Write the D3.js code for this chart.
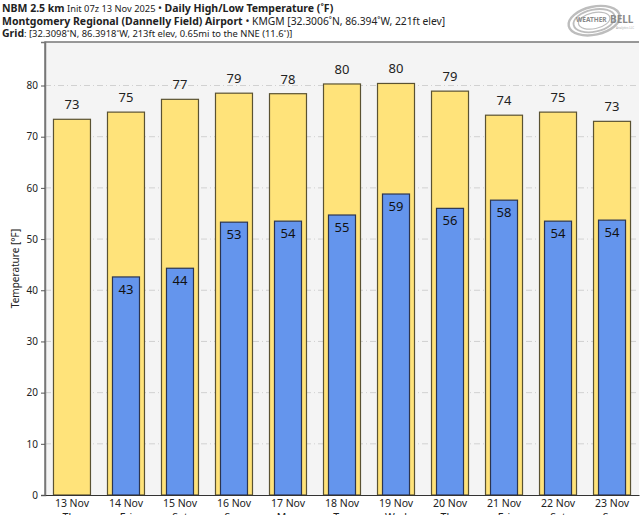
<!DOCTYPE html>
<html>
<head>
<meta charset="utf-8">
<script src="https://cdn.jsdelivr.net/npm/d3@7"></script>
<style>
  body { margin: 0; background: #fff; font-family: "Noto Sans", "Open Sans", sans-serif; }
  svg text { font-family: "Noto Sans", "Open Sans", sans-serif; fill: #222; }
</style>
</head>
<body>
<svg id="chart" width="644" height="515"></svg>
<script>
// Data
const DAYS = ['13 Nov', '14 Nov', '15 Nov', '16 Nov', '17 Nov', '18 Nov', '19 Nov', '20 Nov', '21 Nov', '22 Nov', '23 Nov'];
const WEEKDAYS = ['Thu', 'Fri', 'Sat', 'Sun', 'Mon', 'Tue', 'Wed', 'Thu', 'Fri', 'Sat', 'Sun'];
const HIGHS = [73.4, 74.8, 77.3, 78.5, 78.4, 80.3, 80.4, 78.9, 74.2, 74.8, 73.0];
const LOWS = [null, 42.6, 44.3, 53.3, 53.5, 54.7, 58.8, 56.0, 57.6, 53.5, 53.7];
const Y_TICKS = [0, 10, 20, 30, 40, 50, 60, 70, 80];

// Layout
const M = { left: 45, right: 639, top: 42, bottom: 495 };
const HIGH_COLOR = '#ffe37a', LOW_COLOR = '#6495ed', EDGE = '#5a5232';

const svg = d3.select('#chart');

const x = d3.scaleBand().domain(DAYS.map((d, i) => i)).range([M.left, M.right]).paddingInner(0.315).paddingOuter(0.157);
const y = d3.scaleLinear().domain([0, 88.5]).range([M.bottom, M.top]);

// plot background
svg.append('rect').attr('x', M.left).attr('y', M.top)
  .attr('width', M.right - M.left).attr('height', M.bottom - M.top)
  .attr('fill', '#f4f4f4');

// grid (dash-dot)
svg.append('g').selectAll('line').data(Y_TICKS.filter(t => t > 0)).join('line')
  .attr('x1', M.left).attr('x2', M.right)
  .attr('y1', d => y(d)).attr('y2', d => y(d))
  .attr('stroke', '#c8c8c8').attr('stroke-width', 0.8)
  .attr('stroke-dasharray', '6,3,1,3');

// high bars
svg.append('g').selectAll('rect').data(HIGHS).join('rect')
  .attr('x', (d, i) => x(i)).attr('width', x.bandwidth())
  .attr('y', d => y(d)).attr('height', d => y(0) - y(d))
  .attr('fill', HIGH_COLOR).attr('stroke', EDGE).attr('stroke-width', 1.2);

// low bars
const lowW = x.bandwidth() * 0.73;
const lowData = LOWS.map((v, i) => ({ v, i })).filter(d => d.v != null);
svg.append('g').selectAll('rect').data(lowData).join('rect')
  .attr('x', d => x(d.i) + (x.bandwidth() - lowW) / 2).attr('width', lowW)
  .attr('y', d => y(d.v)).attr('height', d => y(0) - y(d.v))
  .attr('fill', LOW_COLOR).attr('stroke', '#2c3550').attr('stroke-width', 1.2);

// labels
svg.append('g').selectAll('text').data(HIGHS).join('text')
  .attr('x', (d, i) => x(i) + x.bandwidth() / 2).attr('y', d => y(d) - 10)
  .attr('text-anchor', 'middle').attr('font-size', 13)
  .text(d => Math.round(d));
svg.append('g').selectAll('text').data(lowData).join('text')
  .attr('x', d => x(d.i) + x.bandwidth() / 2).attr('y', d => y(d.v) + 17)
  .attr('text-anchor', 'middle').attr('font-size', 13).style('fill', '#111')
  .text(d => Math.round(d.v));

// frame (left + top)
svg.append('path')
  .attr('d', `M${M.left},${M.bottom}V${M.top}H${M.right}`)
  .attr('fill', 'none').attr('stroke', '#777').attr('stroke-width', 1.5);

// y axis
const yAxis = svg.append('g').attr('transform', `translate(${M.left},0)`)
  .call(d3.axisLeft(y).tickValues(Y_TICKS).tickSize(4).tickPadding(3));
yAxis.select('.domain').attr('stroke', '#777').attr('stroke-width', 1.5);
yAxis.selectAll('.tick line').attr('stroke', '#555');
yAxis.selectAll('.tick text').attr('font-size', 10).style('fill', '#222');

// x axis
const xAxis = svg.append('g').attr('transform', `translate(0,${M.bottom})`)
  .call(d3.axisBottom(x).tickSize(0).tickPadding(5).tickFormat(i => DAYS[i]));
xAxis.select('.domain').attr('stroke', '#333').attr('stroke-width', 1.2);
xAxis.selectAll('.tick text').attr('font-size', 10.5).style('fill', '#222')
  .each(function (i) {
    d3.select(this).append('tspan').attr('x', 0).attr('dy', '1.25em').text(WEEKDAYS[i]);
  });

// y title
svg.append('text').attr('transform', `translate(19,${(M.top + M.bottom) / 2}) rotate(-90)`)
  .attr('text-anchor', 'middle').attr('font-size', 10).text('Temperature [°F]');

// header
const hdr = svg.append('g').attr('font-size', 10.5);
const l1 = hdr.append('text').attr('x', 2).attr('y', 12);
l1.append('tspan').attr('font-weight', 'bold').text('NBM 2.5 km');
l1.append('tspan').attr('font-size', 9.3).text(' Init 07z 13 Nov 2025 ');
l1.append('tspan').text('• ');
l1.append('tspan').attr('font-weight', 'bold').text('Daily High/Low Temperature (˚F)');
const l2 = hdr.append('text').attr('x', 2).attr('y', 25);
l2.append('tspan').attr('font-weight', 'bold').text('Montgomery Regional (Dannelly Field) Airport');
l2.append('tspan').text(' • ');
l2.append('tspan').attr('font-size', 10.3).text('KMGM [32.3006˚N, 86.394˚W, 221ft elev]');
const l3 = hdr.append('text').attr('x', 2).attr('y', 37);
l3.append('tspan').attr('font-weight', 'bold').text('Grid');
l3.append('tspan').attr('font-size', 9.4).text(': [32.3098˚N, 86.3918˚W, 213ft elev, 0.65mi to the NNE (11.6˚)]');

// logo
const logo = svg.append('g').attr('transform', 'translate(602,19)');
[[26, 14], [21, 11], [16, 8]].forEach(([rx, ry], k) => {
  logo.append('ellipse').attr('cx', -8).attr('rx', rx).attr('ry', ry).attr('transform', 'rotate(-12)')
    .attr('fill', 'none').attr('stroke', '#bdbdbd').attr('stroke-width', 2.4 - k * 0.6);
});
logo.append('text').attr('x', -26).attr('y', 3).attr('font-size', 6.5).style('fill', '#8a8a8a')
  .attr('font-family', 'DejaVu Serif').attr('font-weight', 'bold').text('WEATHER');
logo.append('text').attr('x', 8).attr('y', 4).attr('font-size', 10).style('fill', '#8a8a8a')
  .attr('font-family', 'DejaVu Serif').attr('font-weight', 'bold').text('BELL');
logo.append('text').attr('x', 14).attr('y', 10).attr('font-size', 3).style('fill', '#aaa')
  .text('Analytics LLC');
</script>
</body>
</html>
